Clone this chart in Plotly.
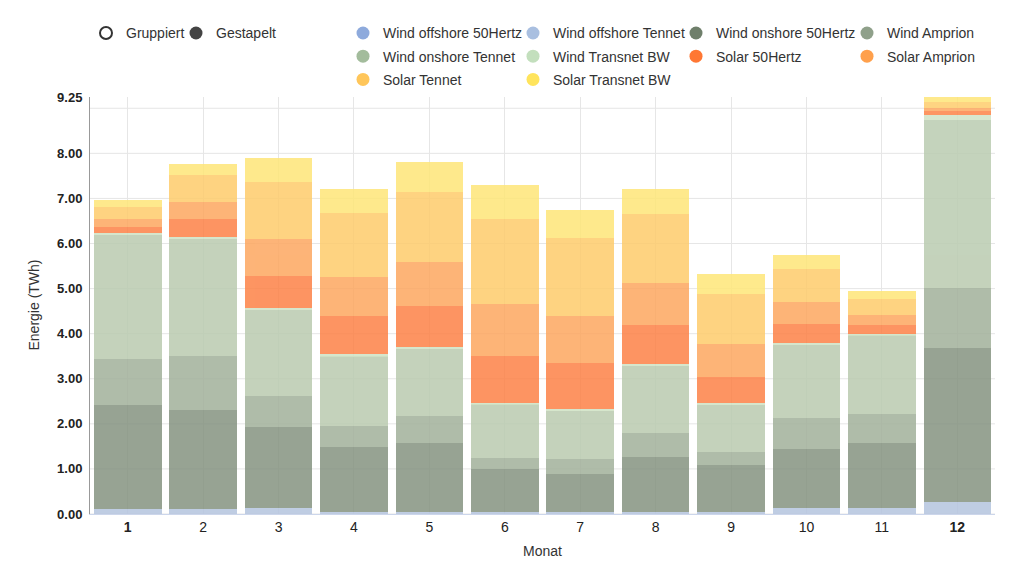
import plotly.graph_objects as go

# ---------------- data ----------------
months = [str(i) for i in range(1, 13)]
month_labels = ["<b>1</b>", "2", "3", "4", "5", "6", "7", "8", "9", "10", "11", "<b>12</b>"]

wind_offshore_50hertz = [0.10, 0.10, 0.14, 0.05, 0.04, 0.04, 0.05, 0.05, 0.04, 0.13, 0.14, 0.27]
wind_offshore_tennet = [0, 0, 0, 0, 0, 0, 0, 0, 0, 0, 0, 0]
wind_onshore_50hertz = [2.31, 2.21, 1.80, 1.43, 1.54, 0.95, 0.84, 1.22, 1.05, 1.31, 1.44, 3.41]
wind_amprion = [1.03, 1.19, 0.68, 0.47, 0.59, 0.26, 0.34, 0.52, 0.29, 0.68, 0.64, 1.34]
wind_onshore_tennet = [2.75, 2.59, 1.91, 1.55, 1.48, 1.18, 1.06, 1.50, 1.03, 1.64, 1.74, 3.72]
wind_transnet_bw = [0.05, 0.06, 0.05, 0.04, 0.05, 0.04, 0.03, 0.04, 0.05, 0.04, 0.03, 0.12]
solar_50hertz = [0.12, 0.39, 0.70, 0.86, 0.91, 1.03, 1.04, 0.87, 0.59, 0.41, 0.20, 0.07]
solar_amprion = [0.18, 0.37, 0.81, 0.86, 0.99, 1.16, 1.04, 0.93, 0.72, 0.49, 0.22, 0.07]
solar_tennet = [0.28, 0.61, 1.27, 1.41, 1.55, 1.88, 1.73, 1.52, 1.11, 0.73, 0.37, 0.15]
solar_transnet_bw = [0.15, 0.24, 0.53, 0.54, 0.65, 0.76, 0.61, 0.56, 0.44, 0.32, 0.17, 0.09]

series_names = ["Wind offshore 50Hertz", "Wind offshore Tennet", "Wind onshore 50Hertz",
                "Wind Amprion", "Wind onshore Tennet", "Wind Transnet BW",
                "Solar 50Hertz", "Solar Amprion", "Solar Tennet", "Solar Transnet BW"]
series_values = [wind_offshore_50hertz, wind_offshore_tennet, wind_onshore_50hertz,
                 wind_amprion, wind_onshore_tennet, wind_transnet_bw,
                 solar_50hertz, solar_amprion, solar_tennet, solar_transnet_bw]

y_tick_vals = [0, 1, 2, 3, 4, 5, 6, 7, 8, 9.25]
y_tick_text = ["0.00", "1.00", "2.00", "3.00", "4.00", "5.00", "6.00", "7.00", "8.00", "9.25"]
y_grid_vals = [0, 1, 2, 3, 4, 5, 6, 7, 8, 9]
y_max = 9.25

y_title = "Energie (TWh)"
x_title = "Monat"
mode_names = ["Gruppiert", "Gestapelt"]

# ---------------- styles ----------------
legend_colors = ["#8eaadc", "#a9bfe0", "#6f7f6b", "#8fa08a", "#a3bc9c", "#c3dfbd",
                 "#ff7733", "#ffa04c", "#ffc65a", "#ffe45c"]
bar_colors = ["rgb(181,197,223)", "rgb(181,197,223)", "rgb(133,147,129)", "rgb(162,177,155)",
              "rgb(186,203,176)", "rgb(208,226,196)", "rgb(253,130,71)", "rgb(253,167,96)",
              "rgb(254,204,108)", "rgb(254,230,120)"]
legend_ids = ["legend", "legend2", "legend3", "legend4",
              "legend", "legend2", "legend3", "legend4",
              "legend", "legend2"]

FONT = "Liberation Sans, Arial, sans-serif"

fig = go.Figure()

for name, vals, col in zip(series_names, series_values, bar_colors):
    fig.add_trace(go.Bar(x=months, y=vals, name=name, marker=dict(color=col, line=dict(width=0)),
                         opacity=0.85, showlegend=False))

# legend entries with circle symbols (no data points)
for i, (name, col, lg) in enumerate(zip(series_names, legend_colors, legend_ids)):
    fig.add_trace(go.Scatter(x=[None], y=[None], mode="markers", name=name, legend=lg,
                             legendgroup="g%d" % i,
                             marker=dict(symbol="circle", size=13, color=col),
                             showlegend=True, hoverinfo="skip"))

fig.add_trace(go.Scatter(x=[None], y=[None], mode="markers", name=mode_names[0], legend="legend5",
                         marker=dict(symbol="circle-open", size=12, color="#333333",
                                     line=dict(width=2, color="#333333")),
                         showlegend=True, hoverinfo="skip"))
fig.add_trace(go.Scatter(x=[None], y=[None], mode="markers", name=mode_names[1], legend="legend6",
                         marker=dict(symbol="circle", size=13, color="#444444"),
                         showlegend=True, hoverinfo="skip"))

# horizontal gridlines at integer values (9.25 label has no gridline)
for gv in y_grid_vals:
    fig.add_shape(type="line", xref="paper", x0=0, x1=1, yref="y", y0=gv, y1=gv,
                  line=dict(color="#e6e6e6", width=1), layer="below")

W, H = 1024, 565
ML, MR, MT, MB = 90, 29, 97, 51
plot_w = W - ML - MR

# y-axis title as a rotated annotation
fig.add_annotation(text=y_title, textangle=-90, xref="paper", yref="paper",
                   x=(33 - ML) / plot_w, y=0.5, xanchor="center", yanchor="middle",
                   showarrow=False, font=dict(family=FONT, size=14, color="#333333"))

legend_top = 1 - 17.4 / H
leg_font = dict(family=FONT, size=14, color="#333333")
leg_common = dict(xref="container", yref="container", y=legend_top, yanchor="top", xanchor="left",
                  font=leg_font, bgcolor="rgba(0,0,0,0)",
                  borderwidth=0, traceorder="grouped", tracegroupgap=2, orientation="v")

fig.update_layout(
    width=W, height=H, autosize=False,
    margin=dict(l=ML, r=MR, t=MT, b=MB, autoexpand=False),
    paper_bgcolor="white", plot_bgcolor="white",
    barmode="stack", bargap=0.104,
    font=dict(family=FONT, size=14, color="#333333"),
    xaxis=dict(type="category", tickmode="array", tickvals=months, ticktext=month_labels,
               tickfont=dict(family=FONT, size=14, color="#222222"),
               showgrid=True, gridcolor="#e6e6e6", gridwidth=1,
               showline=True, linecolor="#ccd6eb", linewidth=1, ticks="",
               title=dict(text=x_title, font=dict(family=FONT, size=14, color="#333333"), standoff=12),
               fixedrange=True, automargin=True),
    yaxis=dict(range=[0, y_max], tickmode="array", tickvals=y_tick_vals, ticktext=y_tick_text,
               tickfont=dict(family=FONT, size=13, color="#222222", weight="bold"),
               ticklabelstandoff=4,
               showgrid=False, zeroline=False,
               showline=True, linecolor="#999999", linewidth=1, ticks="",
               fixedrange=True),
    legend=dict(x=343 / W, **leg_common),
    legend2=dict(x=513 / W, **leg_common),
    legend3=dict(x=676 / W, **leg_common),
    legend4=dict(x=847 / W, **leg_common),
    legend5=dict(x=86 / W, **leg_common),
    legend6=dict(x=176 / W, **leg_common),
    showlegend=True,
)

fig.write_html("out.html", include_plotlyjs=True, config={"displayModeBar": False},
               post_script="document.body.style.margin='0';")
